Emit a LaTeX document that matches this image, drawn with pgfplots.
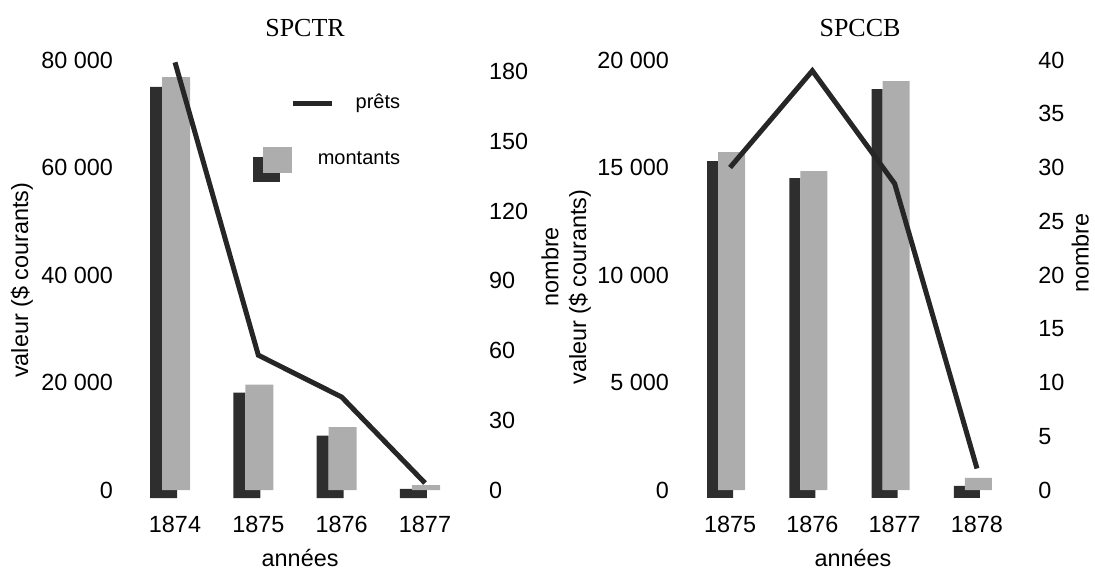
\documentclass[border=0pt]{standalone}
\usepackage{pgfplots}
\pgfplotsset{compat=1.18}
\usepackage{fontspec}
\setmainfont{Liberation Sans}
\newfontfamily\titlefont{Liberation Serif}
\definecolor{barlight}{gray}{0.68}
\definecolor{bardark}{gray}{0.18}
\definecolor{linecol}{gray}{0.15}
\newcommand\lab{\fontsize{11.7}{14}\selectfont}
\newcommand\leg{\fontsize{10}{12}\selectfont}

\pgfplotsset{
  common/.style={
    scale only axis, clip=false, ymin=0, height=215pt,
    scaled y ticks=false, scaled x ticks=false,
    major tick length=0pt, tick style={draw=none},
    axis line style={draw=none},
    ticklabel style={font=\lab},
    label style={font=\lab},
  },
  leftax/.style={common, axis x line*=bottom, axis y line*=left,
    xtick={0,1,2,3}, xticklabel style={yshift=-9.6pt},
    every axis title shift=0pt,
    title style={font=\titlefont\fontsize{13}{15}\selectfont, anchor=center, yshift=16pt},
  },
  rightax/.style={common, axis x line=none, axis y line*=right},
  lfoot/.style={ybar, draw=none, fill=bardark, bar width=13.5pt, bar shift=-5.75pt, forget plot},
  ldark/.style={ybar, draw=none, fill=bardark, bar width=6pt, bar shift=-9.5pt, forget plot},
  llight/.style={ybar, draw=none, fill=barlight, bar width=14pt, bar shift=0.5pt},
  rfoot/.style={ybar, draw=none, fill=bardark, bar width=13pt, bar shift=-5pt, forget plot},
  rdark/.style={ybar, draw=none, fill=bardark, bar width=5.5pt, bar shift=-8.75pt, forget plot},
  rlight/.style={ybar, draw=none, fill=barlight, bar width=13.5pt, bar shift=0.75pt, forget plot},
}

\begin{document}
\begin{tikzpicture}
\useasboundingbox (0,0) rectangle (547.5pt,284.5pt);

% ---------------- SPCTR ----------------
\begin{axis}[leftax,
  at={(73pt,39.5pt)}, anchor=south west, width=165pt,
  xmin=-0.348, xmax=3.612,
  xticklabels={1874,1875,1876,1877},
  ymax=80000, ytick={0,20000,40000,60000,80000},
  yticklabels={0,20 000,40 000,60 000,80 000},
  yticklabel style={xshift=-13pt},
  xlabel={années}, xlabel style={at={(axis description cs:0.467,0)}, anchor=base, yshift=-38pt},
  ylabel={valeur (\$ courants)}, ylabel style={at={(axis description cs:-0.376,0.488)}, anchor=center},
  title={SPCTR}, title style={at={(axis description cs:0.482,1)}},
  legend cell align=right,
  legend style={at={(axis description cs:0.770,0.920)}, anchor=north east,
    draw=none, fill=none, inner sep=0pt, outer sep=0pt,
    row sep=17.5pt, column sep=13pt, nodes={inner sep=0pt, font=\leg}},
]
\addlegendimage{legend image code/.code={\draw[overlay, linecol, line width=2.5pt] (20pt,0pt) -- (39.5pt,0pt);}}
\addlegendentry{prêts}
\addplot[lfoot] coordinates {(0,-1500) (1,-1500) (2,-1500) (3,-1500)};
\addplot[ldark] coordinates {(0,75000) (1,18100) (2,10100) (3,200)};
\addplot[llight, legend image code/.code={
    \fill[bardark] (0pt,-11pt) rectangle (13.5pt,1.5pt);
    \fill[barlight] (5pt,-6.5pt) rectangle (19.5pt,6.5pt);}]
  coordinates {(0,76800) (1,19600) (2,11700) (3,900)};
\addlegendentry{montants}
\end{axis}

\begin{axis}[rightax,
  at={(73pt,39.5pt)}, anchor=south west, width=165pt,
  xmin=-0.348, xmax=3.612,
  ymax=185, ytick={0,30,60,90,120,150,180},
  yticklabels={0,30,60,90,120,150,180},
  yticklabel style={xshift=3pt},
  ylabel={nombre}, ylabel style={at={(axis description cs:1.224,0.519)}, anchor=center},
]
\addplot[linecol, line width=2.5pt] coordinates {(0,184) (1,58) (2,40) (3,3)};
\end{axis}

% ---------------- SPCCB ----------------
\begin{axis}[leftax,
  at={(352.5pt,39.5pt)}, anchor=south west, width=161.5pt,
  xmin=-0.304, xmax=3.62,
  xticklabels={1875,1876,1877,1878},
  ymax=20000, ytick={0,5000,10000,15000,20000},
  yticklabels={0,5 000,10 000,15 000,20 000},
  yticklabel style={xshift=-14.5pt},
  xlabel={années}, xlabel style={at={(axis description cs:0.458,0)}, anchor=base, yshift=-38pt},
  ylabel={valeur (\$ courants)}, ylabel style={at={(axis description cs:-0.387,0.472)}, anchor=center},
  title={SPCCB}, title style={at={(axis description cs:0.48,1)}},
]
\addplot[rfoot] coordinates {(0,-370) (1,-370) (2,-370) (3,-370)};
\addplot[rdark] coordinates {(0,15300) (1,14510) (2,18650) (3,190)};
\addplot[rlight] coordinates {(0,15720) (1,14830) (2,19020) (3,560)};
\end{axis}

\begin{axis}[rightax,
  at={(352.5pt,39.5pt)}, anchor=south west, width=161.5pt,
  xmin=-0.304, xmax=3.62,
  ymax=40, ytick={0,5,10,15,20,25,30,35,40},
  yticklabels={0,5,10,15,20,25,30,35,40},
  yticklabel style={xshift=1.6pt},
  ylabel={nombre}, ylabel style={at={(axis description cs:1.162,0.551)}, anchor=center},
]
\addplot[linecol, line width=2.5pt] coordinates {(0,30) (1,39) (2,28.5) (3,2)};
\end{axis}
\end{tikzpicture}
\end{document}
